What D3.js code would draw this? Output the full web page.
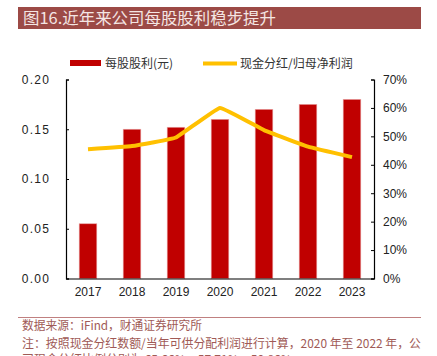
<!DOCTYPE html>
<html><head><meta charset="utf-8">
<script src="https://cdn.jsdelivr.net/npm/d3@7"></script>
<style>body{margin:0;background:#fff}svg{display:block}</style>
</head><body>
<svg id="c" width="437" height="356"></svg>
<script>
const years = ["2017","2018","2019","2020","2021","2022","2023"];
const dps = [0.055, 0.150, 0.152, 0.160, 0.170, 0.175, 0.180];
const payout = [45.5, 46.6, 49.6, 60.0, 52.2, 46.4, 42.7];
const leftTicks = [0, 0.05, 0.10, 0.15, 0.20];
const rightTicks = [0,10,20,30,40,50,60,70];
const titleText = "图16.近年来公司每股股利稳步提升";
const legendBar = "每股股利(元)";
const legendLine = "现金分红/归母净利润";
const sourceText = "数据来源：iFind，财通证券研究所";
const noteLines = ["注：按照现金分红数额/当年可供分配利润进行计算，2020 年至 2022 年，公", "司现金分红比例分别为 65.66%、57.71%、50.86%"];

const svg = d3.select("#c");
const cjk = "'Noto Sans CJK SC', sans-serif";
const L = 66, R = 374, T = 79.5, B = 278.5;

// title bar
svg.append("rect").attr("x",18).attr("y",7).attr("width",403).attr("height",22).attr("fill","#9c4a46");
svg.append("text").attr("x",23).attr("y",24).attr("font-family",cjk).attr("font-size",16)
  .attr("fill","#f4e6e4").attr("textLength",253).attr("lengthAdjust","spacingAndGlyphs").text(titleText);

const x = d3.scaleBand().domain(years).range([L,R]).paddingInner(0.6).paddingOuter(0.3);
const yL = d3.scaleLinear().domain([0,0.2]).range([B,T]);
const yR = d3.scaleLinear().domain([0,70]).range([B,T]);

// bars
svg.append("g").selectAll("rect").data(years).join("rect")
  .attr("x",d=>x(d)).attr("width",x.bandwidth())
  .attr("y",(d,i)=>yL(dps[i])).attr("height",(d,i)=>B-yL(dps[i]))
  .attr("fill","#c00000").attr("stroke","#e8a0a0").attr("stroke-width",0.6);

// line
const line = d3.line().x((d,i)=>x(years[i])+x.bandwidth()/2).y(d=>yR(d)).curve(d3.curveCardinal.tension(0.75));
svg.append("path").datum(payout).attr("d",line).attr("fill","none").attr("stroke","#ffc000").attr("stroke-width",4);

// axes
const axL = svg.append("g").attr("transform",`translate(${L},0)`)
  .call(d3.axisLeft(yL).tickValues(leftTicks).tickSize(-3).tickPadding(16).tickFormat(d3.format(".2f")));
const axR = svg.append("g").attr("transform",`translate(${R},0)`)
  .call(d3.axisRight(yR).tickValues(rightTicks).tickSize(-3).tickPadding(9).tickFormat(d=>d+"%"));
const axB = svg.append("g").attr("transform",`translate(0,${B})`)
  .call(d3.axisBottom(x).tickSize(0).tickPadding(9));
axB.select(".domain").attr("stroke","#000").attr("stroke-width",1.2);
[axL,axR].forEach(a=>{a.select(".domain").attr("stroke","#000").attr("stroke-width",1.2);a.selectAll(".tick line").attr("stroke","#000");});
svg.selectAll(".tick text").attr("font-family","'Liberation Sans', Arial, sans-serif").attr("font-size",12).attr("fill","#222");
axL.selectAll(".tick text").attr("letter-spacing","1.2px");

// legend
svg.append("rect").attr("x",70).attr("y",60).attr("width",31).attr("height",6).attr("fill","#c00000");
svg.append("text").attr("x",105).attr("y",68).attr("font-family",cjk).attr("font-size",12).attr("fill","#333").text(legendBar);
svg.append("line").attr("x1",203).attr("x2",237).attr("y1",63.5).attr("y2",63.5).attr("stroke","#ffc000").attr("stroke-width",4);
svg.append("text").attr("x",240).attr("y",68).attr("font-family",cjk).attr("font-size",12).attr("fill","#333").text(legendLine);

// footer
svg.append("line").attr("x1",18).attr("x2",421).attr("y1",317.5).attr("y2",317.5).attr("stroke","#c08080").attr("stroke-width",1);
svg.append("text").attr("x",22).attr("y",330).attr("font-family",cjk).attr("font-size",12).attr("fill","#a05a56")
  .attr("textLength",180).attr("lengthAdjust","spacingAndGlyphs").text(sourceText);
svg.append("text").attr("x",22).attr("y",347.5).attr("font-family",cjk).attr("font-size",12).attr("fill","#a05a56")
  .attr("textLength",399).attr("lengthAdjust","spacingAndGlyphs").text(noteLines[0]);
svg.append("text").attr("x",22).attr("y",363.5).attr("font-family",cjk).attr("font-size",12).attr("fill","#a05a56").text(noteLines[1]);
</script>
</body></html>
